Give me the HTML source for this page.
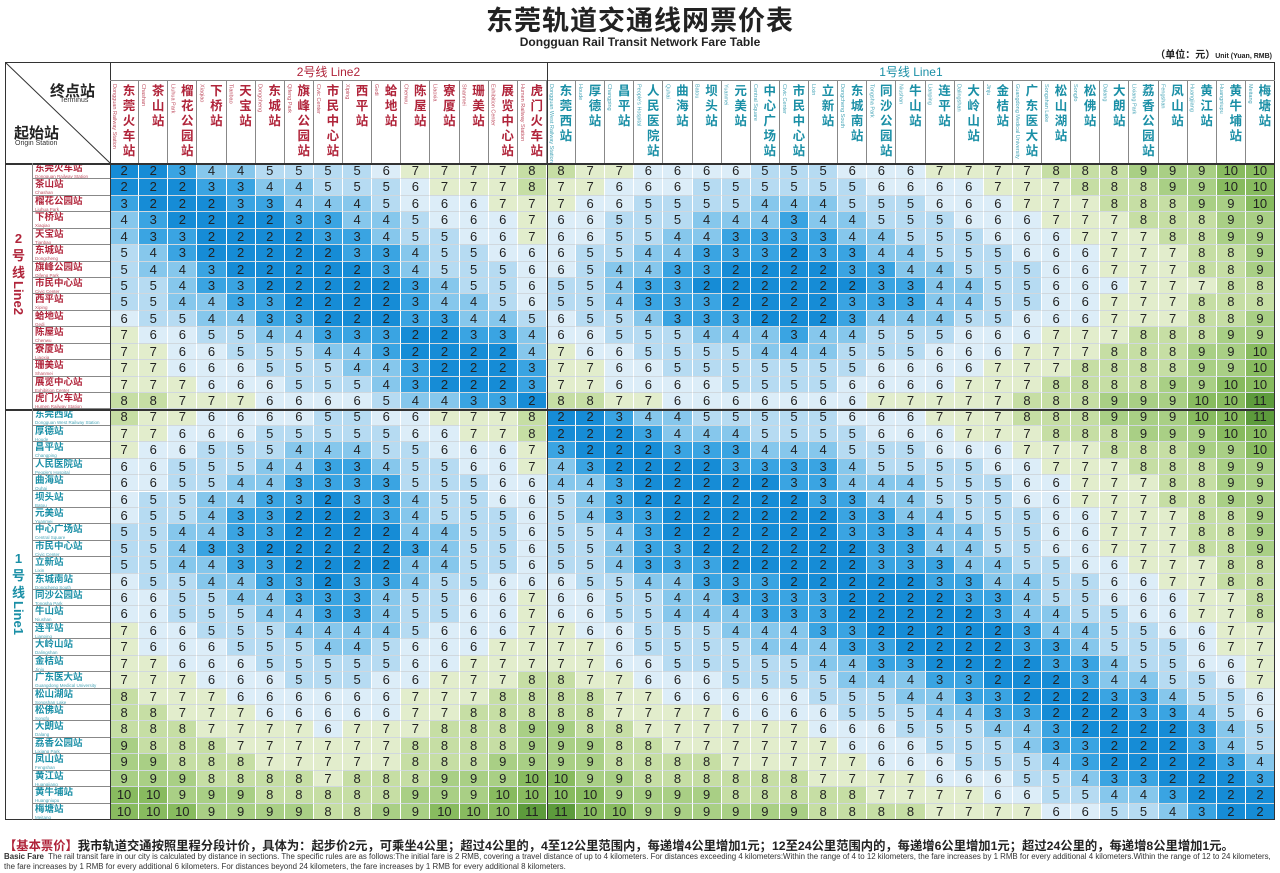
<!DOCTYPE html><html><head><meta charset="utf-8"><style>
body{margin:0;width:1280px;height:873px;background:#fff;position:relative;overflow:hidden;font-family:"Liberation Sans","Noto Sans CJK SC",sans-serif}
.a{position:absolute;box-sizing:border-box}
.c{position:absolute;box-sizing:border-box;border-right:1px solid #fff;border-bottom:1px solid #d0d8de;text-align:center;font-size:13px;color:#222;line-height:16px}
.h{position:absolute;box-sizing:border-box;border-right:1px solid #888;}
.hz{position:absolute;left:12px;top:4px;width:14px;font-size:12.5px;line-height:15px;font-weight:bold;text-align:center}
.en{position:absolute;left:1px;top:4px;writing-mode:vertical-rl;font-size:5.5px;line-height:6px;opacity:.8}
.rl{position:absolute;box-sizing:border-box;border-bottom:1px solid #888;font-size:9.5px;font-weight:bold;line-height:10px;padding-left:3px;padding-top:1px;overflow:hidden}
.rl i{display:block;font-style:normal;font-size:4.5px;line-height:5px;font-weight:normal;opacity:.8}
</style></head><body>
<div class="a" style="left:0;top:-1px;width:1280px;text-align:center;font-size:27px;font-weight:bold;color:#222;letter-spacing:1px">东莞轨道交通线网票价表</div>
<div class="a" style="left:0;top:35px;width:1280px;text-align:center;font-size:12px;font-weight:bold;color:#222">Dongguan Rail Transit Network Fare Table</div>
<div class="a" style="right:8px;top:46px;font-size:10px;font-weight:bold;color:#222">（单位：元）<span style="font-size:7px">Unit (Yuan, RMB)</span></div>
<div id="t"></div>
<div class="a" style="left:4px;top:836px;font-size:12.3px;font-weight:bold;color:#222;white-space:nowrap"><span style="color:#b0243a">【基本票价】</span>我市轨道交通按照里程分段计价，具体为：起步价2元，可乘坐4公里；超过4公里的，4至12公里范围内，每递增4公里增加1元；12至24公里范围内的，每递增6公里增加1元；超过24公里的，每递增8公里增加1元。</div>
<div class="a" style="left:4px;top:852px;font-size:7.9px;color:#333;white-space:nowrap;line-height:10px"><b>Basic Fare</b>&nbsp; The rail transit fare in our city is calculated by distance in sections. The specific rules are as follows:The initial fare is 2 RMB, covering a travel distance of up to 4 kilometers. For distances exceeding 4 kilometers:Within the range of 4 to 12 kilometers, the fare increases by 1 RMB for every additional 4 kilometers.Within the range of 12 to 24 kilometers,<br>the fare increases by 1 RMB for every additional 6 kilometers. For distances beyond 24 kilometers, the fare increases by 1 RMB for every additional 8 kilometers.</div>
<script>
var L2=[["东莞火车站","Dongguan Railway Station"],["茶山站","Chashan"],["榴花公园站","Liuhua Park"],["下桥站","Xiaqiao"],["天宝站","Tianbao"],["东城站","Dongcheng"],["旗峰公园站","Qifeng Park"],["市民中心站","Civic Center"],["西平站","Xiping"],["蛤地站","Gedi"],["陈屋站","Chenwu"],["寮厦站","Liaoxia"],["珊美站","Shanmei"],["展览中心站","Exhibition Center"],["虎门火车站","Humen Railway Station"]];
var L1=[["东莞西站","Dongguan West Railway Station"],["厚德站","Houde"],["昌平站","Changping"],["人民医院站","People's Hospital"],["曲海站","Quhai"],["坝头站","Batou"],["元美站","Yuanmei"],["中心广场站","Central Square"],["市民中心站","Civic Center"],["立新站","Lixin"],["东城南站","Dongcheng South"],["同沙公园站","Tongsha Park"],["牛山站","Niushan"],["连平站","Lianping"],["大岭山站","Dalingshan"],["金桔站","Jinju"],["广东医大站","Guangdong Medical University"],["松山湖站","Songshan Lake"],["松佛站","Songfo"],["大朗站","Dalang"],["荔香公园站","Lixiang Park"],["凤山站","Fengshan"],["黄江站","Huangjiang"],["黄牛埔站","Huangniupu"],["梅塘站","Meitang"]];
var p2=[0,3,6,9,11,13,15,17,18,20,25,28,30,32,37],p1=[0,3,7,10,12,13,15,16,17,18,21,23,24,26,28,30,33,36,38,42,44,46,50,54,58];
function f(d){if(d<=4)return 2;if(d<=8)return 3;if(d<=12)return 4;if(d<=18)return 5;if(d<=24)return 6;return Math.min(11,7+Math.floor((d-24.001)/8));}
var st=[];L2.forEach(function(s,i){st.push({n:s[0],e:s[1],l:2,p:p2[i]})});L1.forEach(function(s,i){st.push({n:s[0],e:s[1],l:1,p:p1[i]})});
function fare(a,b){if(a.l==b.l)return f(Math.abs(a.p-b.p));var x=a.l==2?a:b,y=a.l==2?b:a;return f(0.95*(Math.abs(x.p-17)+Math.abs(y.p-17)));}
var col={2:"#168cd6",3:"#3aa4e2",4:"#86c7ec",5:"#b6dbf2",6:"#dcedf8",7:"#e2edcc",8:"#c6dea4",9:"#a9cf85",10:"#88bb5f",11:"#5d9b3c"};
var X0=110,CW=1165/40,Y0=163,RH=657/40,h="";
var red="#b0243a",teal="#1a8fa6";
for(var j=0;j<40;j++){var s=st[j],c=s.l==2?red:teal,hz=s.n.split("").join("<br>");
h+='<div class="h" style="left:'+(X0+j*CW)+'px;top:80px;width:'+CW+'px;height:83px;color:'+c+'"><div class="en">'+s.e+'</div><div class="hz">'+hz+'</div></div>';}
for(var i=0;i<40;i++){var s=st[i],c=s.l==2?red:teal;
h+='<div class="rl" style="left:32px;top:'+(Y0+i*RH)+'px;width:78px;height:'+RH+'px;color:'+c+'">'+s.n+'<i>'+s.e+'</i></div>';
for(var j=0;j<40;j++){var v=fare(s,st[j]);h+='<div class="c" style="left:'+(X0+j*CW)+'px;top:'+(Y0+i*RH)+'px;width:'+CW+'px;height:'+RH+'px;background:'+col[v]+'">'+v+'</div>';}}
h+='<div class="a" style="left:5px;top:62px;width:1270px;height:758px;border:1.5px solid #333"></div>';
h+='<div class="a" style="left:110px;top:62px;width:1px;height:758px;background:#333"></div>';
h+='<div class="a" style="left:5px;top:163px;width:1270px;height:1.5px;background:#333"></div>';
h+='<div class="a" style="left:110px;top:80px;width:1165px;height:1px;background:#888"></div>';
h+='<div class="a" style="left:'+(X0+15*CW)+'px;top:62px;width:1.5px;height:758px;background:#333"></div>';
h+='<div class="a" style="left:5px;top:'+(Y0+15*RH)+'px;width:1270px;height:1.5px;background:#333"></div>';
h+='<div class="a" style="left:32px;top:163px;width:1px;height:657px;background:#888"></div>';
h+='<div class="a" style="left:110px;top:63px;width:'+(15*CW)+'px;text-align:center;font-size:12px;color:'+red+'">2号线 Line2</div>';
h+='<div class="a" style="left:'+(X0+15*CW)+'px;top:63px;width:'+(25*CW)+'px;text-align:center;font-size:12px;color:'+teal+'">1号线 Line1</div>';
h+='<svg class="a" style="left:5px;top:62px" width="105" height="101"><line x1="0" y1="0" x2="105" y2="101" stroke="#333" stroke-width="1"/></svg>';
h+='<div class="a" style="left:50px;top:80px;font-size:15px;font-weight:bold;color:#222">终点站</div><div class="a" style="left:60px;top:97px;font-size:7px;color:#333">Terminus</div>';
h+='<div class="a" style="left:14px;top:122px;font-size:15px;font-weight:bold;color:#222">起始站</div><div class="a" style="left:15px;top:140px;font-size:7px;color:#333">Origin Station</div>';
h+='<div class="a" style="left:5px;top:230px;width:27px;text-align:center;font-size:13px;font-weight:bold;line-height:17px;color:'+red+'">2<br>号<br>线<br><span style="display:inline-block;writing-mode:vertical-rl">Line2</span></div>';
h+='<div class="a" style="left:5px;top:550px;width:27px;text-align:center;font-size:13px;font-weight:bold;line-height:17px;color:'+teal+'">1<br>号<br>线<br><span style="display:inline-block;writing-mode:vertical-rl">Line1</span></div>';
document.getElementById("t").innerHTML=h;
</script></body></html>
